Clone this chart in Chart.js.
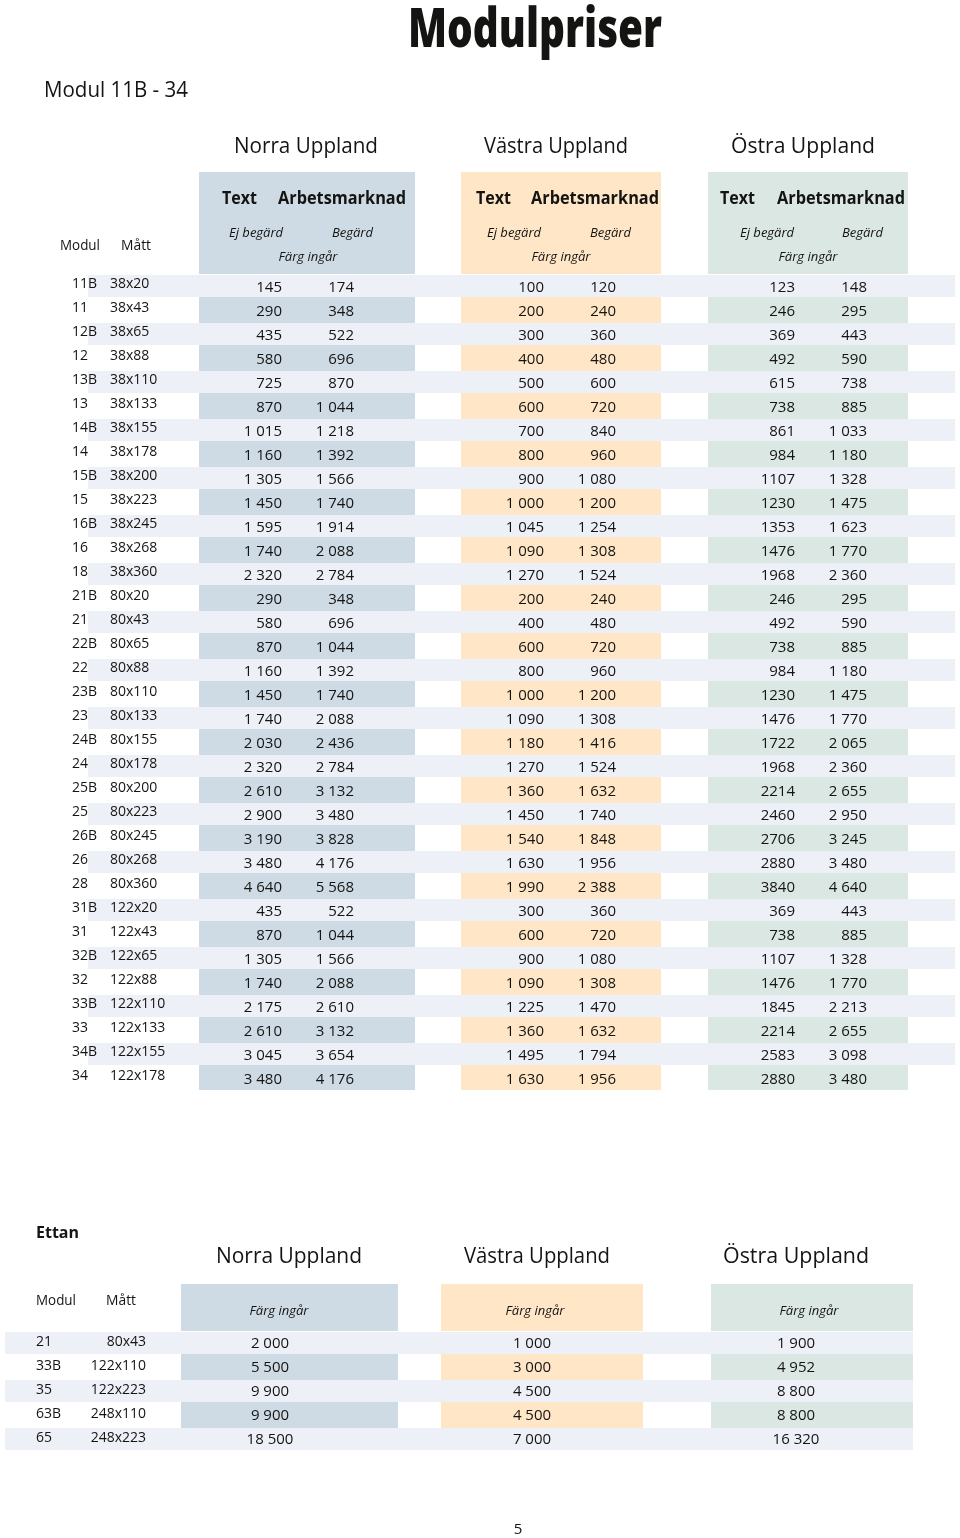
<!DOCTYPE html>
<html>
<head>
<meta charset="utf-8">
<script src="https://cdn.jsdelivr.net/npm/chart.js@4"></script>
<style>
  body { margin: 0; background: #fff; }
  #page { position: relative; width: 960px; height: 1538px; }
  canvas { position: absolute; left: 0; }
</style>
</head>
<body>
<div id="page">
  <canvas id="Chart-1" width="960" height="1100" style="top:0"></canvas>
  <canvas id="Chart-2" width="960" height="338" style="top:1200px"></canvas>
</div>
<script>
const regions = ['Norra Uppland', 'Västra Uppland', 'Östra Uppland'];

const modules = ['11B','11','12B','12','13B','13','14B','14','15B','15','16B','16','18',
  '21B','21','22B','22','23B','23','24B','24','25B','25','26B','26','28',
  '31B','31','32B','32','33B','33','34B','34'];
const sizes = ['38x20','38x43','38x65','38x88','38x110','38x133','38x155','38x178','38x200','38x223','38x245','38x268','38x360',
  '80x20','80x43','80x65','80x88','80x110','80x133','80x155','80x178','80x200','80x223','80x245','80x268','80x360',
  '122x20','122x43','122x65','122x88','122x110','122x133','122x155','122x178'];

const norraEj = [145,290,435,580,725,870,1015,1160,1305,1450,1595,1740,2320,290,580,870,1160,1450,1740,2030,2320,2610,2900,3190,3480,4640,435,870,1305,1740,2175,2610,3045,3480];
const norraBeg = [174,348,522,696,870,1044,1218,1392,1566,1740,1914,2088,2784,348,696,1044,1392,1740,2088,2436,2784,3132,3480,3828,4176,5568,522,1044,1566,2088,2610,3132,3654,4176];
const vastraEj = [100,200,300,400,500,600,700,800,900,1000,1045,1090,1270,200,400,600,800,1000,1090,1180,1270,1360,1450,1540,1630,1990,300,600,900,1090,1225,1360,1495,1630];
const vastraBeg = [120,240,360,480,600,720,840,960,1080,1200,1254,1308,1524,240,480,720,960,1200,1308,1416,1524,1632,1740,1848,1956,2388,360,720,1080,1308,1470,1632,1794,1956];
const ostraEj = [123,246,369,492,615,738,861,984,1107,1230,1353,1476,1968,246,492,738,984,1230,1476,1722,1968,2214,2460,2706,2880,3840,369,738,1107,1476,1845,2214,2583,2880];
const ostraBeg = [148,295,443,590,738,885,1033,1180,1328,1475,1623,1770,2360,295,590,885,1180,1475,1770,2065,2360,2655,2950,3245,3480,4640,443,885,1328,1770,2213,2655,3098,3480];

const ettanModules = ['21','33B','35','63B','65'];
const ettanSizes = ['80x43','122x110','122x223','248x110','248x223'];
const ettanNorra = [2000,5500,9900,9900,18500];
const ettanVastra = [1000,3000,4500,4500,7000];
const ettanOstra = [1900,4952,8800,8800,16320];

// colours
const ink = '#141412';
const stripe = '#eef0f8';
const fills = ['#cedbe5', '#fee6c6', '#dbe7e2'];

// spaced thousands, östra "ej begärd" is printed without spacing
const spaced = n => String(n).replace(/\B(?=(\d{3})+(?!\d))/g, ' ');
const plain = n => String(n);

function put(ctx, str, x, y, font, align, maxW) {
  ctx.font = font;
  ctx.textAlign = align || 'left';
  ctx.textBaseline = 'alphabetic';
  ctx.fillStyle = ink;
  if (maxW) ctx.fillText(str, x, y, maxW);
  else ctx.fillText(str, x, y);
}

const FONT = '"Open Sans", "Noto Sans", sans-serif';
const NUM = '500 15px ' + FONT;
const LBL = '500 14px ' + FONT;

// ---------- top table ----------
const topGroups = [
  { x0: 199, x1: 415, title: 306, text: 222, arb: 278, ej: 229, beg: 332, farg: 308, cols: [282, 354],
    values: [norraEj, norraBeg], formats: [spaced, spaced] },
  { x0: 461, x1: 661, title: 556, text: 476, arb: 531, ej: 487, beg: 590, farg: 561, cols: [544, 616],
    values: [vastraEj, vastraBeg], formats: [spaced, spaced] },
  { x0: 708, x1: 908, title: 803, text: 720, arb: 777, ej: 740, beg: 842, farg: 808, cols: [795, 867],
    values: [ostraEj, ostraBeg], formats: [plain, spaced] },
];

const topText = {
  id: 'topText',
  beforeDatasetsDraw(chart) {
    const { ctx, chartArea, scales: { x } } = chart;
    ctx.save();
    topGroups.forEach((g, i) => {
      ctx.fillStyle = fills[i];
      const a = x.getPixelForValue(g.x0), b = x.getPixelForValue(g.x1);
      ctx.fillRect(a, chartArea.top - 102, b - a, 102);
    });
    ctx.restore();
  },
  afterDatasetsDraw(chart) {
    const { ctx, scales: { x, y } } = chart;
    ctx.save();
    put(ctx, 'Modulpriser', 535, 47, '800 55px ' + FONT, 'center', 254);
    put(ctx, 'Modul 11B - 34', 44, 97, '400 21px ' + FONT, 'left', 144);
    put(ctx, 'Modul', 60, 250, LBL, 'left', 40);
    put(ctx, 'Mått', 121, 250, LBL, 'left', 30);

    topGroups.forEach((g, gi) => {
      put(ctx, regions[gi], x.getPixelForValue(g.title), 153, '400 22px ' + FONT, 'center', 144);
      put(ctx, 'Text', x.getPixelForValue(g.text), 204, '700 18px ' + FONT, 'left', 35);
      put(ctx, 'Arbetsmarknad', x.getPixelForValue(g.arb), 204, '700 18px ' + FONT, 'left', 128);
      put(ctx, 'Ej begärd', x.getPixelForValue(g.ej), 237, 'italic 400 13px ' + FONT, 'left', 55);
      put(ctx, 'Begärd', x.getPixelForValue(g.beg), 237, 'italic 400 13px ' + FONT, 'left', 41);
      put(ctx, 'Färg ingår', x.getPixelForValue(g.farg), 261, 'italic 400 13px ' + FONT, 'center', 59);
    });

    modules.forEach((m, i) => {
      const cy = y.getPixelForValue(i);
      put(ctx, m, 72, cy + 2, LBL, 'left');
      put(ctx, sizes[i], 110, cy + 2, LBL, 'left');
      topGroups.forEach(g => {
        g.cols.forEach((c, k) => {
          put(ctx, g.formats[k](g.values[k][i]), x.getPixelForValue(c), cy + 6, NUM, 'right');
        });
      });
    });
    ctx.restore();
  }
};

const ctx1 = document.getElementById('Chart-1');

new Chart(ctx1, {
  type: 'bar',
  data: {
    labels: modules,
    datasets: [
      {
        label: 'stripes',
        data: modules.map((_, i) => i % 2 === 0 ? [88, 955] : null),
        backgroundColor: stripe,
        barPercentage: 22 / 24,
      },
      ...topGroups.map((g, gi) => ({
        label: regions[gi],
        data: modules.map((_, i) => i % 2 === 1 ? [g.x0, g.x1] : null),
        backgroundColor: fills[gi],
        barPercentage: 26 / 24,
      })),
    ]
  },
  options: {
    responsive: false,
    devicePixelRatio: 1,
    animation: false,
    indexAxis: 'y',
    layout: { padding: { top: 274, bottom: 10, left: 0, right: 0 } },
    datasets: { bar: { grouped: false, categoryPercentage: 1, borderWidth: 0 } },
    plugins: { legend: { display: false }, tooltip: { enabled: false } },
    scales: {
      x: { type: 'linear', min: 0, max: 960, display: false },
      y: { type: 'category', display: false },
    }
  },
  plugins: [topText]
});

// ---------- Ettan ----------
const ettanGroups = [
  { x0: 181, x1: 398, title: 289, farg: 279, col: 270, values: ettanNorra },
  { x0: 441, x1: 643, title: 537, farg: 535, col: 532, values: ettanVastra },
  { x0: 711, x1: 913, title: 796, farg: 809, col: 796, values: ettanOstra },
];

const ettanText = {
  id: 'ettanText',
  beforeDatasetsDraw(chart) {
    const { ctx, chartArea, scales: { x } } = chart;
    ctx.save();
    ettanGroups.forEach((g, i) => {
      ctx.fillStyle = fills[i];
      const a = x.getPixelForValue(g.x0), b = x.getPixelForValue(g.x1);
      ctx.fillRect(a, chartArea.top - 47, b - a, 47);
    });
    ctx.restore();
  },
  afterDatasetsDraw(chart) {
    const { ctx, scales: { x, y } } = chart;
    ctx.save();
    put(ctx, 'Ettan', 36, 38, '700 16px ' + FONT, 'left', 45);
    put(ctx, 'Modul', 36, 105, LBL, 'left', 40);
    put(ctx, 'Mått', 106, 105, LBL, 'left', 30);
    ettanGroups.forEach((g, gi) => {
      put(ctx, regions[gi], x.getPixelForValue(g.title), 63, '400 22px ' + FONT, 'center', 146);
      put(ctx, 'Färg ingår', x.getPixelForValue(g.farg), 115, 'italic 400 13px ' + FONT, 'center', 59);
    });
    ettanModules.forEach((m, i) => {
      const cy = y.getPixelForValue(i);
      put(ctx, m, 36, cy + 3, LBL, 'left');
      put(ctx, ettanSizes[i], 146, cy + 3, LBL, 'right');
      ettanGroups.forEach(g => {
        put(ctx, spaced(g.values[i]), x.getPixelForValue(g.col), cy + 5, NUM, 'center');
      });
    });
    put(ctx, '5', 518, 334, '400 15px ' + FONT, 'center');
    ctx.restore();
  }
};

const ctx2 = document.getElementById('Chart-2');

new Chart(ctx2, {
  type: 'bar',
  data: {
    labels: ettanModules,
    datasets: [
      {
        label: 'stripes',
        data: ettanModules.map((_, i) => i % 2 === 0 ? [5, 913] : null),
        backgroundColor: stripe,
        barPercentage: 22 / 24,
      },
      ...ettanGroups.map((g, gi) => ({
        label: regions[gi],
        data: ettanModules.map((_, i) => i % 2 === 1 ? [g.x0, g.x1] : null),
        backgroundColor: fills[gi],
        barPercentage: 26 / 24,
      })),
    ]
  },
  options: {
    responsive: false,
    devicePixelRatio: 1,
    animation: false,
    indexAxis: 'y',
    layout: { padding: { top: 131, bottom: 87, left: 0, right: 0 } },
    datasets: { bar: { grouped: false, categoryPercentage: 1, borderWidth: 0 } },
    plugins: { legend: { display: false }, tooltip: { enabled: false } },
    scales: {
      x: { type: 'linear', min: 0, max: 960, display: false },
      y: { type: 'category', display: false },
    }
  },
  plugins: [ettanText]
});
</script>
</body>
</html>
